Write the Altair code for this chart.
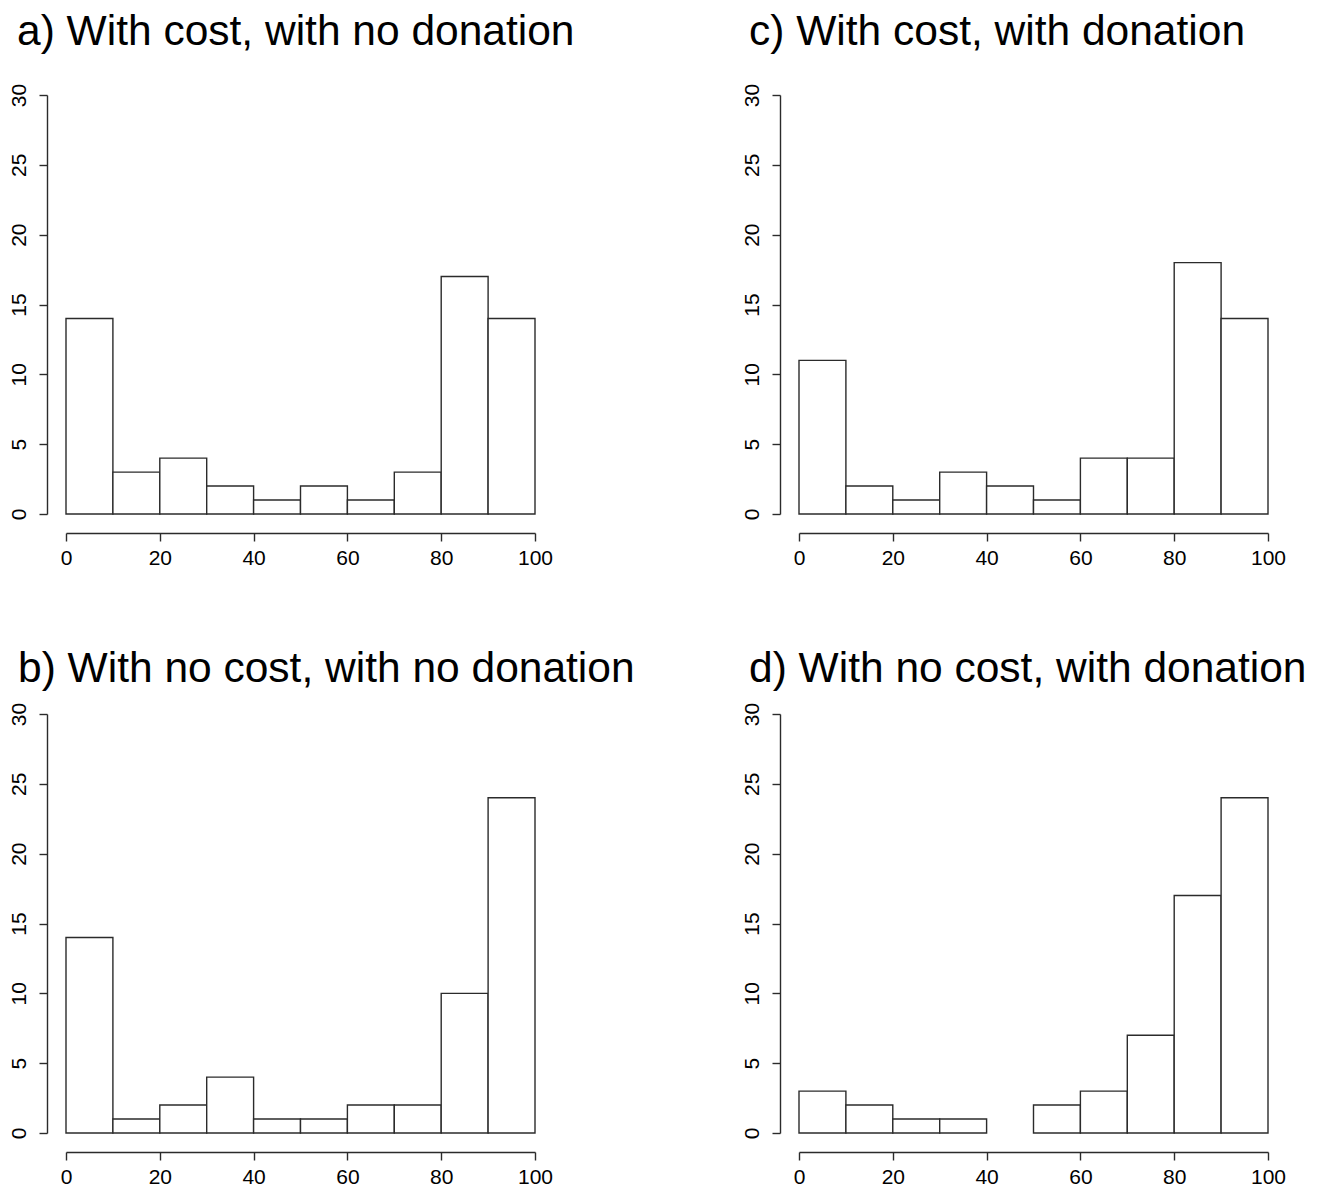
import altair as alt
import pandas as pd

# Bin edges (percent) and histogram counts for each panel
bin_starts = [0, 10, 20, 30, 40, 50, 60, 70, 80, 90]
bin_ends = [10, 20, 30, 40, 50, 60, 70, 80, 90, 100]

counts_a = [14, 3, 4, 2, 1, 2, 1, 3, 17, 14]
counts_b = [14, 1, 2, 4, 1, 1, 2, 2, 10, 24]
counts_c = [11, 2, 1, 3, 2, 1, 4, 4, 18, 14]
counts_d = [3, 2, 1, 1, 0, 2, 3, 7, 17, 24]

title_a = "a) With cost, with no donation"
title_b = "b) With no cost, with no donation"
title_c = "c) With cost, with donation"
title_d = "d) With no cost, with donation"

x_ticks = [0, 20, 40, 60, 80, 100]
y_ticks = [0, 5, 10, 15, 20, 25, 30]

FONT = "Liberation Sans"
LINE = "#2b2b2b"
W, H = 469, 419


def panel(counts, title, offset, dx):
    df = pd.DataFrame({"start": bin_starts, "end": bin_ends, "count": counts})
    return (
        alt.Chart(
            df,
            title=alt.TitleParams(
                text=title,
                anchor="start",
                frame="group",
                orient="top",
                baseline="alphabetic",
                offset=offset,
                dx=dx,
                font=FONT,
                fontSize=42.5,
                fontWeight="normal",
                color="black",
            ),
        )
        .transform_filter("datum.count > 0")
        .mark_rect(fill="white", stroke=LINE, strokeWidth=1.4)
        .encode(
            x=alt.X(
                "start:Q",
                scale=alt.Scale(domain=[0, 100], nice=False, zero=False),
                axis=alt.Axis(
                    values=x_ticks,
                    title="",
                    offset=19,
                    tickSize=8,
                    labelPadding=6,
                    labelFontSize=21,
                    labelFont=FONT,
                    labelColor="black",
                    domainColor=LINE,
                    tickColor=LINE,
                    domainWidth=1.4,
                    tickWidth=1.4,
                    grid=False,
                    labelFlush=False,
                    labelOverlap=False,
                ),
            ),
            x2="end:Q",
            y=alt.Y(
                "count:Q",
                scale=alt.Scale(domain=[0, 30], nice=False),
                axis=alt.Axis(
                    values=y_ticks,
                    title="",
                    offset=19,
                    tickSize=8,
                    labelAngle=270,
                    labelAlign="center",
                    labelBaseline="alphabetic",
                    labelPadding=14,
                    labelFontSize=21,
                    labelFont=FONT,
                    labelColor="black",
                    domainColor=LINE,
                    tickColor=LINE,
                    domainWidth=1.4,
                    tickWidth=1.4,
                    grid=False,
                    labelFlush=False,
                    labelOverlap=False,
                ),
            ),
            y2=alt.datum(0),
        )
        .properties(
            width=W,
            height=H,
            view=alt.ViewBackground(stroke="transparent", strokeWidth=0),
        )
    )


chart = (
    alt.concat(
        panel(counts_a, title_a, -4, -49),
        panel(counts_c, title_c, -4, -50),
        panel(counts_b, title_b, -22, -48),
        panel(counts_d, title_d, -22, -50),
        columns=2,
        spacing={"row": 200, "column": 264},
        bounds="flush",
    )
    .properties(padding={"left": 0, "top": 2, "right": 5, "bottom": 0})
    .configure_view(stroke="transparent", strokeWidth=0)
    .configure(background="white")
)

chart.save("out.html", embed_options={"renderer": "svg", "actions": False})
